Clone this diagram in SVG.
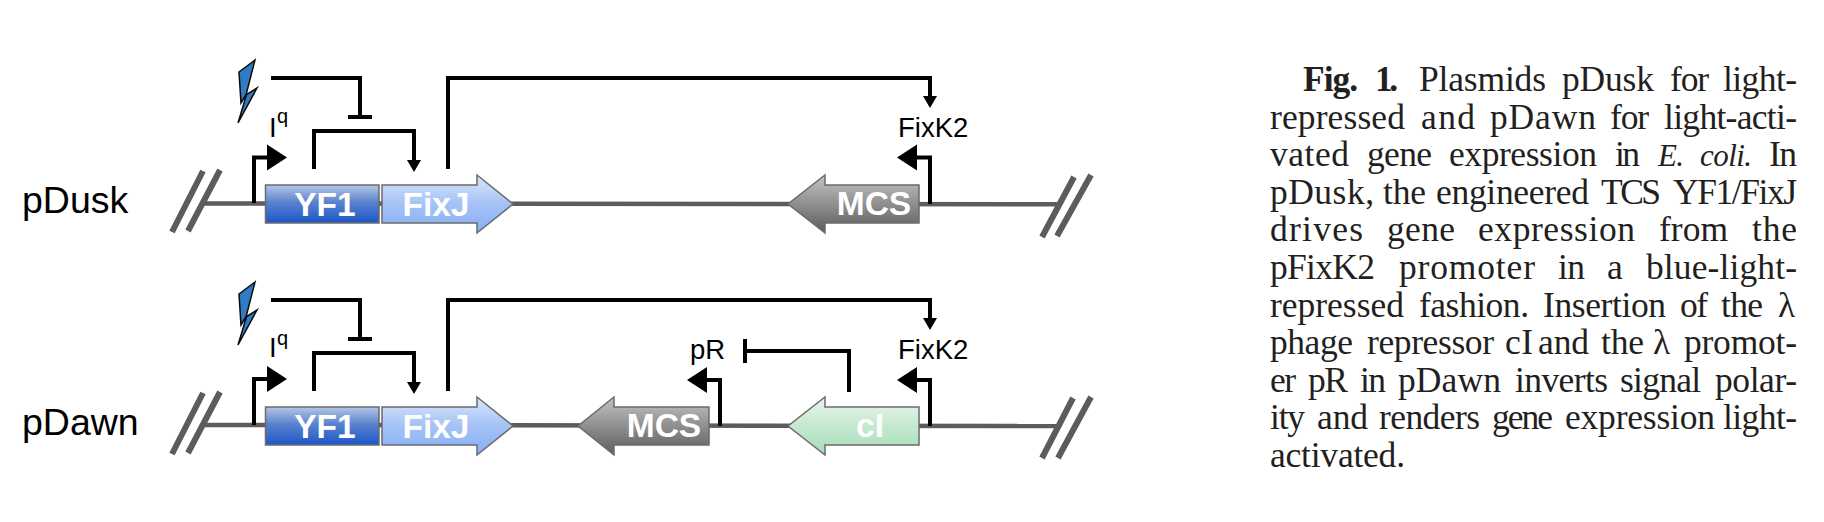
<svg xmlns="http://www.w3.org/2000/svg" width="1824" height="522" viewBox="0 0 1824 522">
<style>
.sans{font-family:"Liberation Sans",Arial,sans-serif}
.lab{font-size:27.5px;fill:#000}
.name{font-size:37.5px;fill:#000}
.gt{font-size:33.5px;font-weight:bold;fill:#fff}
.cap{font-family:"Liberation Serif","Times New Roman",serif;font-size:35.5px;fill:#231f20}
.it{font-style:italic;font-size:31px}
.bb{stroke:#5f5b59;stroke-width:4.5;fill:none}
.sl{stroke:#5f5b59;stroke-width:6;fill:none}
.c{stroke:#000;stroke-width:4;fill:none}
.big{marker-end:url(#ah)}
.small{marker-end:url(#as)}
.tee{marker-end:url(#at)}
.g{stroke:#6b6b6b;stroke-width:1.5}
.bolt{fill:#2f7cc2;stroke:#0a0a0a;stroke-width:1.5}
</style>
<defs>
<linearGradient id="gy" x1="0" y1="0" x2="0" y2="1"><stop offset="0" stop-color="#b4c6e6"/><stop offset=".45" stop-color="#5a83cd"/><stop offset="1" stop-color="#1c56c9"/></linearGradient>
<linearGradient id="gf" x1="0" y1="0" x2="0" y2="1"><stop offset="0" stop-color="#dbe7fa"/><stop offset=".5" stop-color="#a4c2f6"/><stop offset="1" stop-color="#86aef5"/></linearGradient>
<linearGradient id="gm" x1="0" y1="0" x2="0" y2="1"><stop offset="0" stop-color="#c4c4c4"/><stop offset=".5" stop-color="#8f8f8f"/><stop offset="1" stop-color="#5c5c5c"/></linearGradient>
<linearGradient id="gc" x1="0" y1="0" x2="0" y2="1"><stop offset="0" stop-color="#eaf5ee"/><stop offset=".5" stop-color="#c5e8d0"/><stop offset="1" stop-color="#a6deb8"/></linearGradient>
<marker id="ah" markerUnits="userSpaceOnUse" markerWidth="24" markerHeight="28" refX="1" refY="14" orient="auto"><path d="M1,1 L21,14 L1,27z" fill="#000"/></marker>
<marker id="as" markerUnits="userSpaceOnUse" markerWidth="16" markerHeight="16" refX="1" refY="8" orient="auto"><path d="M1,1 L13,8 L1,15z" fill="#000"/></marker>
<marker id="at" markerUnits="userSpaceOnUse" markerWidth="6" markerHeight="26" refX="1" refY="13" orient="auto"><rect x="0" y="1" width="4" height="24" fill="#000"/></marker>
</defs>
<rect width="1824" height="522" fill="#fff"/>

<g id="backbones">
<path class="bb" d="M205,203.5 L1057,204.3"/>
<path class="bb" d="M205,425 L1057,426"/>
<path class="sl" d="M172,232 L203,171 M188,231 L220,170 M1042,237 L1074,177 M1057,236 L1091,175"/>
<path class="sl" d="M172,454 L203,393 M188,453 L220,392 M1042,458 L1073,398 M1058,458 L1091,397"/>
</g>

<g id="connectors">
<path class="c" d="M271,78 H360 V115"/>
<path class="c" d="M348,117 H372"/>
<path class="c small" d="M314,169 V131 H414 V160"/>
<path class="c small" d="M448,169 V78 H930 V96"/>
<path class="c big" d="M254,203 V157.5 H267"/>
<path class="c big" d="M930,204 V157.5 H917"/>
<path class="c" d="M271,300 H360 V337"/>
<path class="c" d="M348,339 H372"/>
<path class="c small" d="M314,391 V353 H414 V382"/>
<path class="c small" d="M448,391 V300 H930 V318"/>
<path class="c big" d="M254,425 V379 H267"/>
<path class="c big" d="M930,426 V380 H917"/>
<path class="c big" d="M720,426 V380 H707"/>
<path class="c tee" d="M849,392 V351 H746"/>
</g>

<g id="pDusk-label"><text class="sans name" x="22" y="213">pDusk</text></g>
<g id="pDawn-label"><text class="sans name" x="22" y="435">pDawn</text></g>

<g id="light-1"><path class="bolt" d="M255,60 L239,72 L241,103 L247,93 L238,123 L257,88 L246,95z"/></g>
<g id="light-2"><path class="bolt" d="M255,282 L239,294 L241,325 L247,315 L238,345 L257,310 L246,317z"/></g>

<g id="Iq-1"><text class="sans lab" x="269" y="137">I</text><text class="sans" font-size="20" x="277" y="123">q</text></g>
<g id="Iq-2"><text class="sans lab" x="269" y="357">I</text><text class="sans" font-size="20" x="277" y="345">q</text></g>
<g id="FixK2-1"><text class="sans lab" x="898" y="137">FixK2</text></g>
<g id="FixK2-2"><text class="sans lab" x="898" y="359">FixK2</text></g>
<g id="pR"><text class="sans lab" x="690" y="359">pR</text></g>

<g id="YF1-1"><rect class="g" x="265.5" y="185" width="113.5" height="38" fill="url(#gy)"/><text class="sans gt" x="325" y="216" text-anchor="middle">YF1</text></g>
<g id="FixJ-1"><path class="g" d="M382,185 H477 V175 L513,204 L477,233 V223 H382z" fill="url(#gf)"/><text class="sans gt" x="436" y="216" text-anchor="middle">FixJ</text></g>
<g id="MCS-1"><path class="g" d="M919,185 H825 V175 L788,204 L825,233 V223 H919z" fill="url(#gm)"/><text class="sans gt" x="874" y="215" text-anchor="middle">MCS</text></g>

<g id="YF1-2"><rect class="g" x="265.5" y="407" width="113.5" height="38" fill="url(#gy)"/><text class="sans gt" x="325" y="438" text-anchor="middle">YF1</text></g>
<g id="FixJ-2"><path class="g" d="M382,407 H477 V397 L513,426 L477,455 V445 H382z" fill="url(#gf)"/><text class="sans gt" x="436" y="438" text-anchor="middle">FixJ</text></g>
<g id="MCS-2"><path class="g" d="M709,407 H614 V397 L578,426 L614,455 V445 H709z" fill="url(#gm)"/><text class="sans gt" x="664" y="437" text-anchor="middle">MCS</text></g>
<g id="cI"><path class="g" d="M919,407 H825 V397 L788,426 L825,455 V445 H919z" fill="url(#gc)"/><text class="sans gt" x="870" y="437" text-anchor="middle">cI</text></g>

<g id="caption">
<text class="cap" y="91"><tspan x="1303" textLength="55" font-weight="bold">Fig.</tspan><tspan x="1375" textLength="23" font-weight="bold">1.</tspan><tspan x="1419" textLength="127">Plasmids</tspan><tspan x="1562" textLength="92">pDusk</tspan><tspan x="1670" textLength="39">for</tspan><tspan x="1723" textLength="74">light-</tspan></text>
<text class="cap" y="128.6"><tspan x="1270" textLength="135">repressed</tspan><tspan x="1421" textLength="54">and</tspan><tspan x="1490" textLength="106">pDawn</tspan><tspan x="1610" textLength="39">for</tspan><tspan x="1664" textLength="133">light-acti-</tspan></text>
<text class="cap" y="166.2"><tspan x="1270" textLength="79">vated</tspan><tspan x="1367" textLength="65">gene</tspan><tspan x="1449" textLength="148">expression</tspan><tspan x="1615" textLength="25">in</tspan><tspan class="it" x="1658" textLength="26">E.</tspan><tspan class="it" x="1700" textLength="52">coli.</tspan><tspan x="1769" textLength="28">In</tspan></text>
<text class="cap" y="203.8"><tspan x="1270" textLength="104">pDusk,</tspan><tspan x="1383" textLength="43">the</tspan><tspan x="1436" textLength="153">engineered</tspan><tspan x="1601" textLength="60">TCS</tspan><tspan x="1673" textLength="124">YF1/FixJ</tspan></text>
<text class="cap" y="241.4"><tspan x="1270" textLength="93">drives</tspan><tspan x="1387" textLength="68">gene</tspan><tspan x="1478" textLength="157">expression</tspan><tspan x="1659" textLength="69">from</tspan><tspan x="1752" textLength="45">the</tspan></text>
<text class="cap" y="279"><tspan x="1270" textLength="105">pFixK2</tspan><tspan x="1399" textLength="136">promoter</tspan><tspan x="1558" textLength="27">in</tspan><tspan x="1607" textLength="15">a</tspan><tspan x="1646" textLength="151">blue-light-</tspan></text>
<text class="cap" y="316.6"><tspan x="1270" textLength="134">repressed</tspan><tspan x="1419" textLength="110">fashion.</tspan><tspan x="1543" textLength="123">Insertion</tspan><tspan x="1680" textLength="28">of</tspan><tspan x="1721" textLength="42">the</tspan><tspan x="1778" textLength="19">λ</tspan></text>
<text class="cap" y="354.2"><tspan x="1270" textLength="83">phage</tspan><tspan x="1367" textLength="127">repressor</tspan><tspan x="1505" textLength="28">cI</tspan><tspan x="1538" textLength="51">and</tspan><tspan x="1601" textLength="43">the</tspan><tspan x="1653" textLength="18">λ</tspan><tspan x="1684" textLength="113">promot-</tspan></text>
<text class="cap" y="391.8"><tspan x="1270" textLength="26">er</tspan><tspan x="1308" textLength="40">pR</tspan><tspan x="1360" textLength="26">in</tspan><tspan x="1398" textLength="103">pDawn</tspan><tspan x="1515" textLength="93">inverts</tspan><tspan x="1620" textLength="81">signal</tspan><tspan x="1715" textLength="82">polar-</tspan></text>
<text class="cap" y="429.4"><tspan x="1270" textLength="35">ity</tspan><tspan x="1317" textLength="51">and</tspan><tspan x="1379" textLength="101">renders</tspan><tspan x="1492" textLength="61">gene</tspan><tspan x="1565" textLength="150">expression</tspan><tspan x="1723" textLength="74">light-</tspan></text>
<text class="cap" y="467"><tspan x="1270" textLength="135">activated.</tspan></text>
</g>
</svg>
